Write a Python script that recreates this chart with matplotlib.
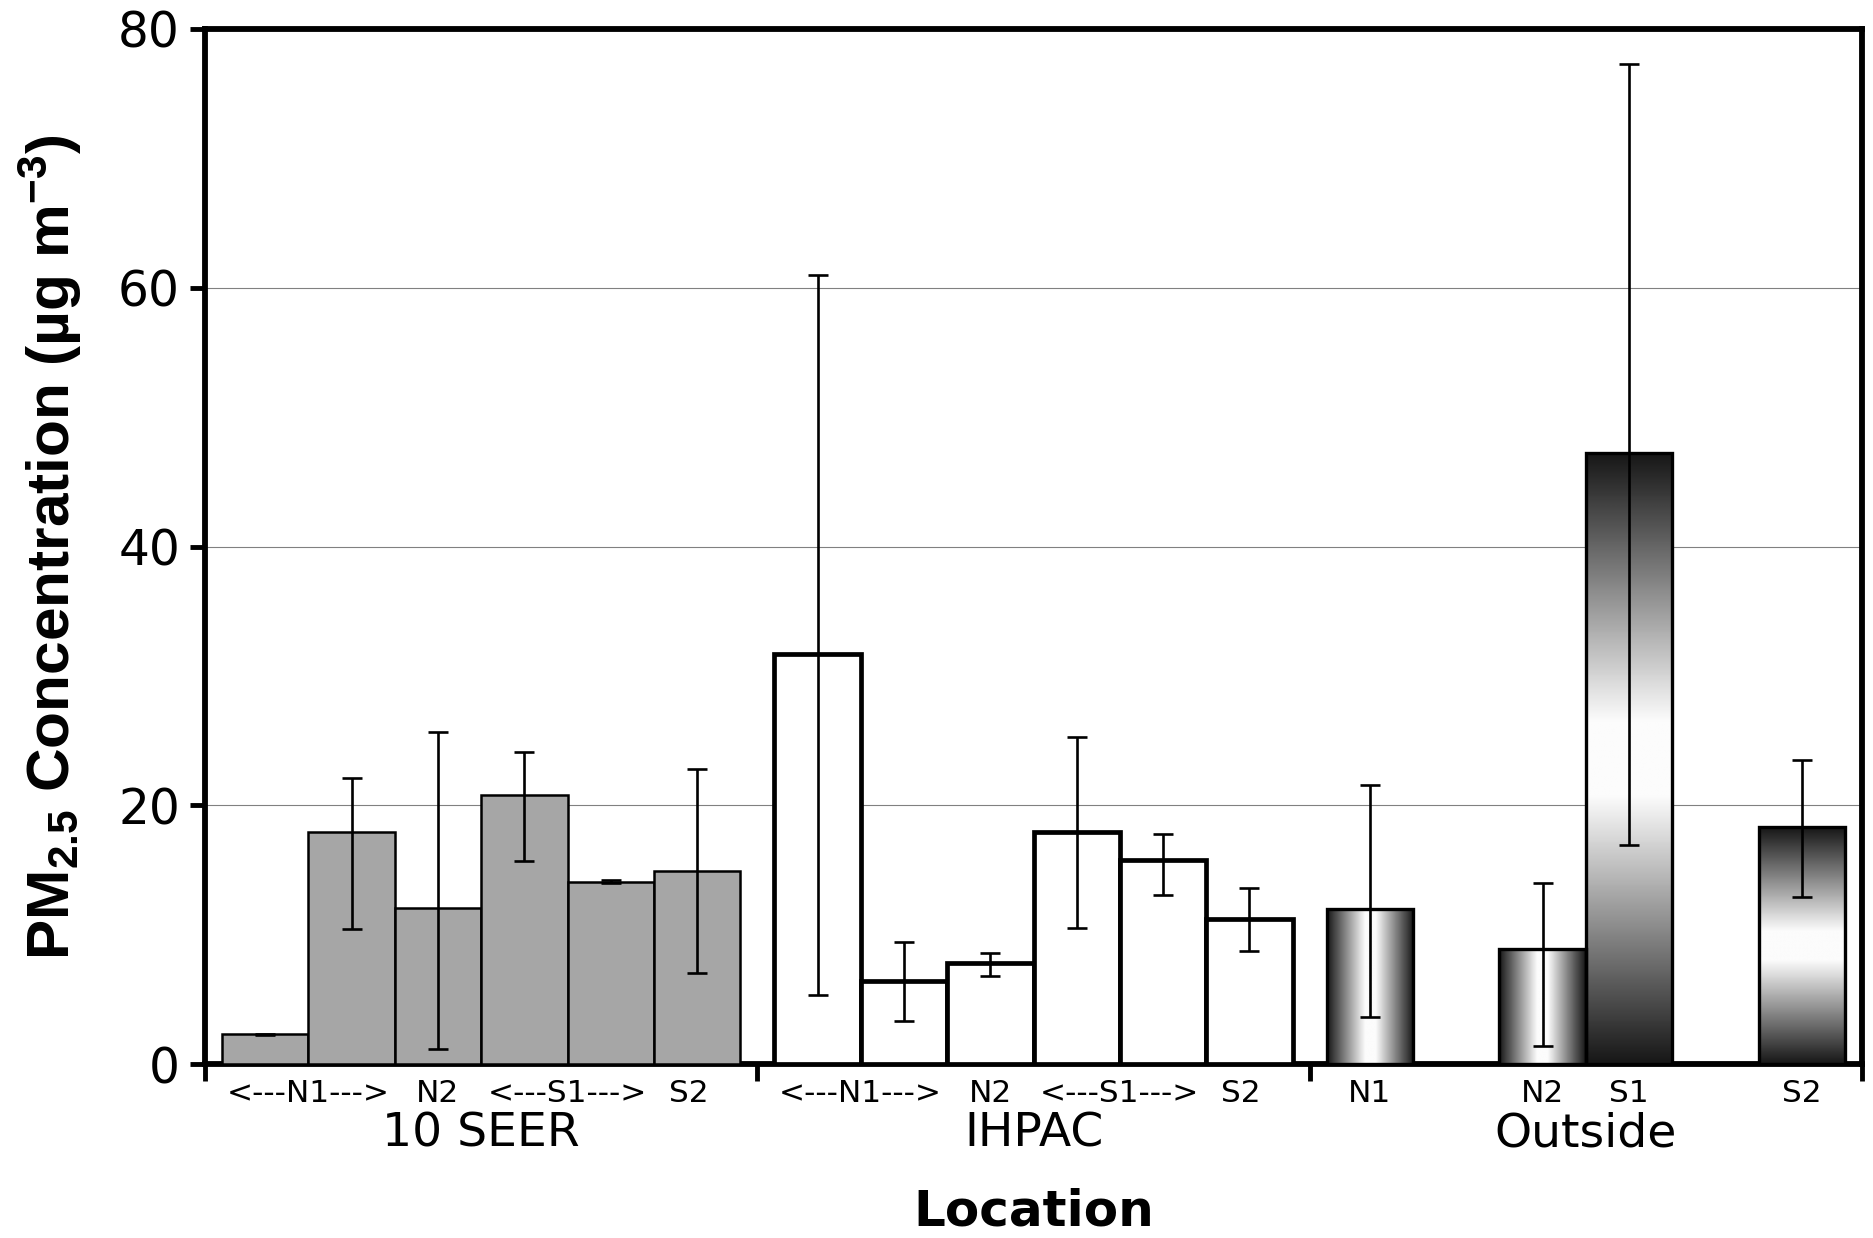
import numpy as np
import matplotlib
matplotlib.use('Agg')
import matplotlib.pyplot as plt

plt.rcParams['mathtext.default'] = 'regular'

# PM2.5 means and error-bar limits
sub_labels = ['<---N1--->', 'N2', '<---S1--->', 'S2']
group_labels = ['10 SEER', 'IHPAC', 'Outside']

seer_mean = [2.3, 17.9, 12.1, 20.8, 14.1, 14.9]
seer_lo = [2.25, 10.4, 1.2, 15.7, 14.0, 7.0]
seer_hi = [2.35, 22.1, 25.7, 24.1, 14.2, 22.8]

ihpac_mean = [31.7, 6.4, 7.8, 17.9, 15.8, 11.2]
ihpac_lo = [5.3, 3.3, 6.8, 10.5, 13.1, 8.7]
ihpac_hi = [61.0, 9.4, 8.6, 25.3, 17.8, 13.6]

out_labels = ['N1', 'N2', 'S1', 'S2']
out_mean = [12.0, 8.9, 47.2, 18.3]
out_lo = [3.6, 1.4, 16.9, 12.9]
out_hi = [21.6, 14.0, 77.3, 23.5]
out_gradient = ['h', 'h', 'v', 'v']

# layout: 6 slots per group, bar width 1
G = 6.394
OFF = 0.197
seer_slots = [0, 1, 2, 3, 4, 5]
ihpac_slots = [0, 1, 2, 3, 4, 5]
out_slots = [0, 2, 3, 5]
sub_label_pos = [1.0, 2.5, 4.0, 5.4]


def xpos(group, slots):
    return np.array([group * G + OFF + s + 0.5 for s in slots])


def errs(mean, lo, hi):
    mean = np.array(mean)
    return [mean - np.array(lo), np.array(hi) - mean]


def shade(n=256):
    # dark at both edges, fading to near white in the middle
    d = np.abs(np.linspace(-1, 1, n))
    return np.clip(0.09 + 0.9 * (1 - d) / 0.88, 0.09, 0.985)


fig = plt.figure(figsize=(18.74, 12.38), dpi=100)
ax = fig.add_axes([0.1094, 0.1405, 0.8842, 0.8361])

eb_kw = dict(fmt='none', ecolor='black', elinewidth=1.9, capsize=7, capthick=1.9, zorder=5)

# 10 SEER - gray bars
x1 = xpos(0, seer_slots)
ax.bar(x1, seer_mean, width=1, color='#a6a6a6', edgecolor='black', linewidth=1.8, zorder=3)
ax.errorbar(x1, seer_mean, yerr=errs(seer_mean, seer_lo, seer_hi), **eb_kw)

# IHPAC - white bars, heavy outline
x2 = xpos(1, ihpac_slots)
ax.bar(x2, ihpac_mean, width=1, color='white', edgecolor='black', linewidth=3.4, zorder=3)
ax.errorbar(x2, ihpac_mean, yerr=errs(ihpac_mean, ihpac_lo, ihpac_hi), **eb_kw)

# Outside - gradient filled bars
x3 = xpos(2, out_slots)
bars = ax.bar(x3, out_mean, width=1, facecolor='none', edgecolor='black', linewidth=2.4, zorder=4)
for b, xc, h, kind in zip(bars, x3, out_mean, out_gradient):
    s = shade()
    arr = s[np.newaxis, :] if kind == 'h' else s[:, np.newaxis]
    im = ax.imshow(arr, cmap='gray', vmin=0, vmax=1, extent=(xc - 0.5, xc + 0.5, 0, h),
                   aspect='auto', interpolation='bilinear', zorder=3)
    im.set_clip_path(b)
ax.errorbar(x3, out_mean, yerr=errs(out_mean, out_lo, out_hi), **eb_kw)

ax.set_xlim(0, 3 * G)
ax.set_ylim(0, 80)
ax.set_yticks([0, 20, 40, 60, 80])
ax.set_xticks([0, G, 2 * G, 3 * G])
ax.set_xticklabels([])
ax.yaxis.grid(True, color='#808080', linewidth=0.8)
ax.set_axisbelow(True)
for sp in ax.spines.values():
    sp.set_linewidth(4.2)
ax.tick_params(axis='y', direction='out', length=11, width=3.5, labelsize=35, pad=7)
ax.tick_params(axis='x', direction='out', length=12, width=3.5)

# category labels under the axis
trans = ax.get_xaxis_transform()
for g in range(2):
    for lab, p in zip(sub_labels, sub_label_pos):
        ax.text(g * G + OFF + p, -0.028, lab, transform=trans, ha='center', va='center', fontsize=22.5)
for lab, xc in zip(out_labels, x3):
    ax.text(xc, -0.028, lab, transform=trans, ha='center', va='center', fontsize=22.5)
for g, lab in enumerate(group_labels):
    ax.text(g * G + G / 2, -0.068, lab, transform=trans, ha='center', va='center', fontsize=34)

ax.text(0.5, -0.142, 'Location', transform=ax.transAxes, ha='center', va='center',
        fontsize=36, fontweight='bold')
fig.text(50 / 1874, 0.558, 'PM$_{2.5}$ Concentration (µg m$^{-3}$)', rotation=90,
         ha='center', va='center', fontsize=43.5, fontweight='bold', family='Liberation Sans')

fig.savefig('out.png', dpi=100)
